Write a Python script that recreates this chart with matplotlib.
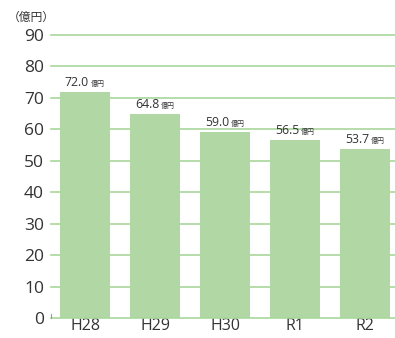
import matplotlib
matplotlib.use("Agg")
import matplotlib.pyplot as plt
from matplotlib.transforms import offset_copy

categories = ["H28", "H29", "H30", "R1", "R2"]
values = [72.0, 64.8, 59.0, 56.5, 53.7]
yticks = [0, 10, 20, 30, 40, 50, 60, 70, 80, 90]
unit_label = "（億円）"
value_unit = "億円"

bar_color = "#b1d8a4"
grid_color = "#a9d79c"
text_color = "#333333"

plt.rcParams['font.family'] = ['Open Sans', 'Noto Sans CJK JP', 'DejaVu Sans']

fig = plt.figure(figsize=(3.95, 3.38), dpi=100)
ax = fig.add_axes([51/395, 20/338, 344/395, 283/338])

x = list(range(len(categories)))
ax.bar(x, values, width=50/70, color=bar_color, zorder=2)
ax.set_xlim(-34/70, 310/70)
ax.set_ylim(0, 90)
ax.set_yticks(yticks)
ax.set_yticklabels([str(t) for t in yticks], fontsize=12.5, color=text_color)
ax.set_xticks(x)
ax.set_xticklabels(categories, fontsize=11.5, color=text_color)
ax.tick_params(axis='y', length=0, pad=5)
ax.tick_params(axis='x', length=0, pad=0)
for t in yticks[1:]:
    ax.axhline(t, color=grid_color, lw=1.2, zorder=1, clip_on=False)
for s in ["top", "right", "left"]:
    ax.spines[s].set_visible(False)
ax.spines["bottom"].set_color(grid_color)
ax.spines["bottom"].set_linewidth(1.2)
ax.plot([-34/70, -34/70], [0, 1.3], color="#999999", lw=0.8, clip_on=False, zorder=3)

for xi, v in zip(x, values):
    tr1 = offset_copy(ax.transData, fig=fig, x=4*0.72, y=6*0.72, units='points')
    ax.text(xi, v, f"{v:.1f}", transform=tr1, ha='right', va='baseline',
            fontsize=8.8, color=text_color)
    tr2 = offset_copy(ax.transData, fig=fig, x=6*0.72, y=6*0.72, units='points')
    ax.text(xi, v, value_unit, transform=tr2, ha='left', va='baseline',
            fontsize=5, color=text_color, family=['Noto Sans CJK JP'])

fig.text(8/395, 1 - 17/338, unit_label, fontsize=8.5, color=text_color,
         family=['Noto Sans CJK JP'], ha='left', va='center')

fig.savefig("out.png", dpi=100)
